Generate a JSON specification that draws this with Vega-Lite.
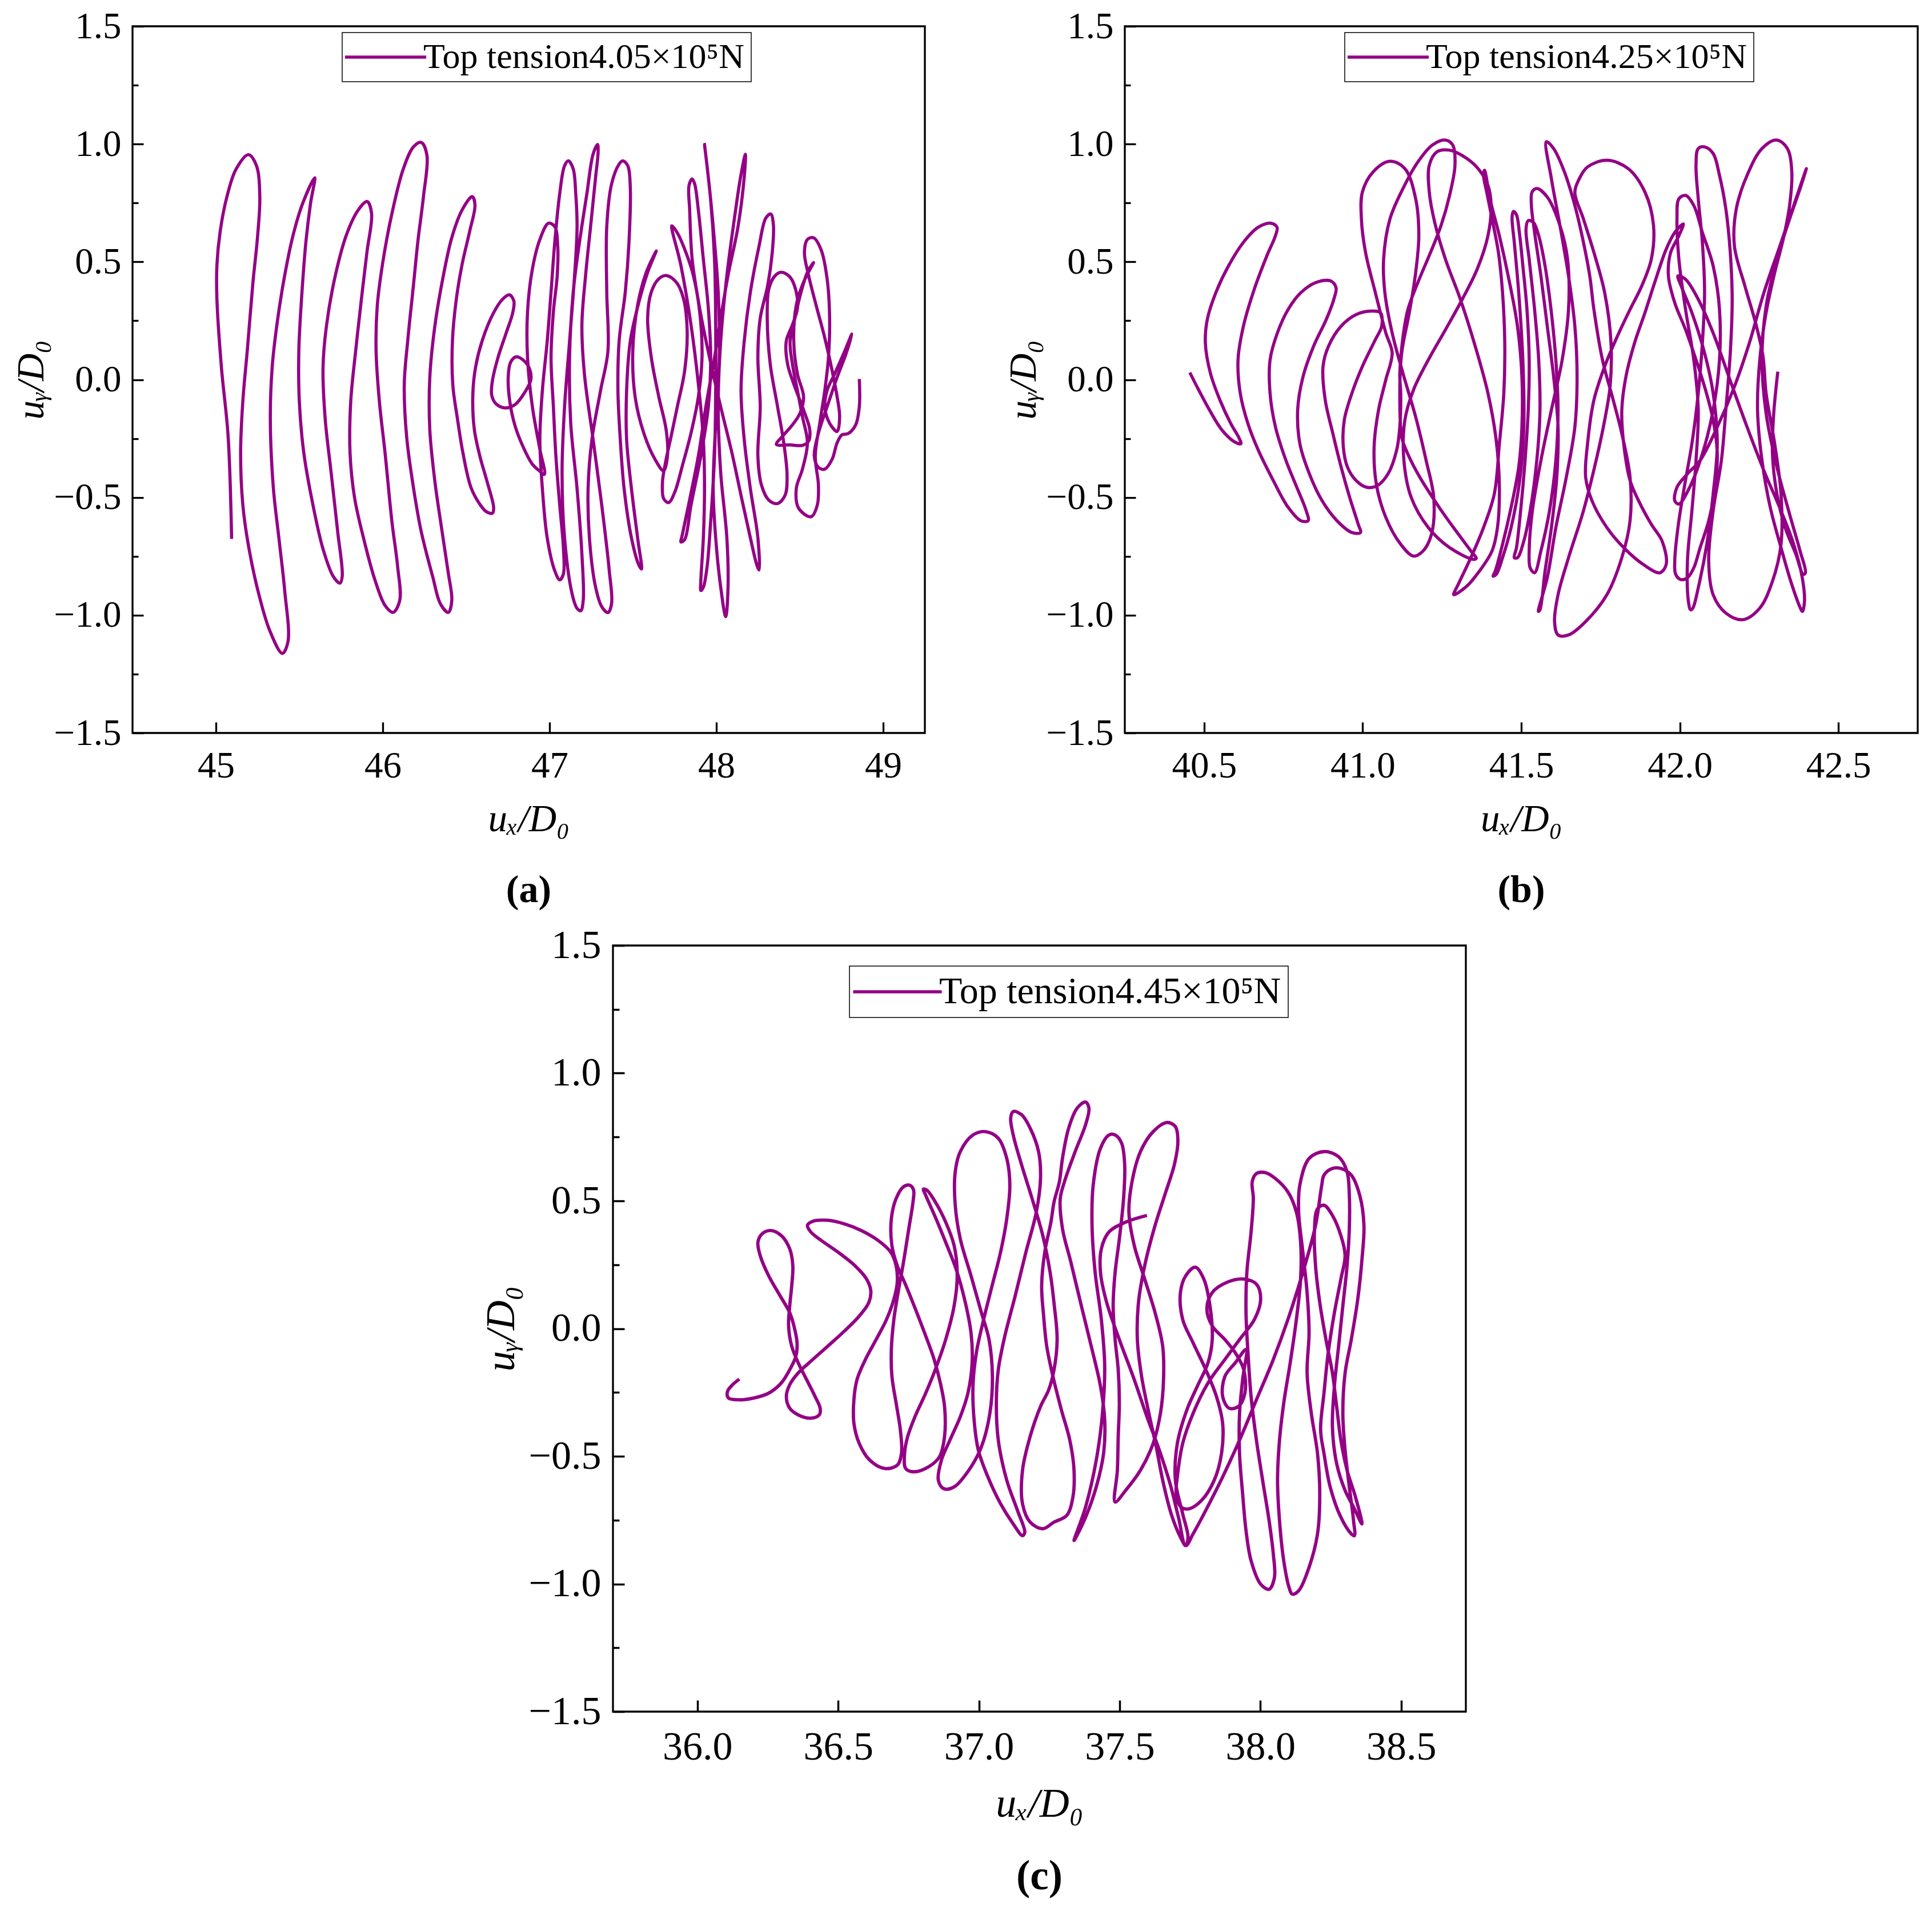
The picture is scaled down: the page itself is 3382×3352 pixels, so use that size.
{
  "$schema": "https://vega.github.io/schema/vega-lite/v6.json",
  "background": "white",
  "padding": {"left": 19, "top": 12, "right": 5, "bottom": 5},
  "config": {
    "view": {"stroke": "black", "strokeWidth": 3.3},
    "font": "Liberation Serif",
    "axis": {"domain": false, "grid": false, "ticks": true, "tickColor": "black", "tickWidth": 3.3, "labelFont": "Liberation Serif", "labelFontSize": 65, "labelColor": "black", "labelOverlap": false, "labelFlush": false, "titleFont": "Liberation Serif", "titleFontSize": 67, "titleFontStyle": "italic", "titleFontWeight": "normal", "titleColor": "black"},
    "axisX": {"tickSize": -19, "labelPadding": 45, "titlePadding": 28},
    "axisY": {"labelPadding": 39, "titlePadding": 5},
    "legend": {"symbolType": "M-3.09,0H3.09", "symbolSize": 2116, "symbolStrokeWidth": 5.5, "labelFont": "Liberation Serif", "labelFontSize": 62, "labelColor": "black", "labelLimit": 0, "strokeColor": "black", "strokeWidth": 1.5, "fillColor": "white", "padding": 12, "cornerRadius": 0, "labelOffset": 35, "symbolOffset": 33},
    "title": {"font": "Liberation Serif", "fontSize": 68, "fontWeight": "bold", "color": "black", "orient": "bottom", "anchor": "middle", "offset": 58},
    "line": {"strokeWidth": 5.5, "interpolate": "catmull-rom"}
  },
  "datasets": {
    "a": [
      {"ux":45.094,"uy":-0.676},{"ux":45.073,"uy":-0.240},{"ux":45.033,"uy":0.051},{"ux":45.006,"uy":0.341},{"ux":45.006,"uy":0.487},{"ux":45.026,"uy":0.632},{"ux":45.066,"uy":0.777},{"ux":45.121,"uy":0.894},{"ux":45.195,"uy":0.955},{"ux":45.243,"uy":0.908},{"ux":45.263,"uy":0.777},
      {"ux":45.249,"uy":0.603},{"ux":45.222,"uy":0.414},{"ux":45.188,"uy":0.124},{"ux":45.161,"uy":-0.094},{"ux":45.148,"uy":-0.312},{"ux":45.161,"uy":-0.530},{"ux":45.195,"uy":-0.705},{"ux":45.256,"uy":-0.908},{"ux":45.324,"uy":-1.068},{"ux":45.398,"uy":-1.162},{"ux":45.432,"uy":-1.112},
      {"ux":45.412,"uy":-0.894},{"ux":45.378,"uy":-0.676},{"ux":45.344,"uy":-0.458},{"ux":45.326,"uy":-0.167},{"ux":45.337,"uy":0.051},{"ux":45.364,"uy":0.225},{"ux":45.405,"uy":0.414},{"ux":45.459,"uy":0.603},{"ux":45.520,"uy":0.748},{"ux":45.592,"uy":0.857},
      {"ux":45.567,"uy":0.748},{"ux":45.540,"uy":0.589},{"ux":45.513,"uy":0.341},{"ux":45.497,"uy":0.124},{"ux":45.500,"uy":-0.094},{"ux":45.527,"uy":-0.312},{"ux":45.581,"uy":-0.530},{"ux":45.642,"uy":-0.719},{"ux":45.703,"uy":-0.835},{"ux":45.743,"uy":-0.864},{"ux":45.757,"uy":-0.835},
      {"ux":45.730,"uy":-0.646},{"ux":45.689,"uy":-0.385},{"ux":45.655,"uy":-0.167},{"ux":45.642,"uy":0.051},{"ux":45.662,"uy":0.225},{"ux":45.716,"uy":0.443},{"ux":45.784,"uy":0.618},{"ux":45.852,"uy":0.719},{"ux":45.906,"uy":0.756},{"ux":45.933,"uy":0.705},
      {"ux":45.906,"uy":0.545},{"ux":45.872,"uy":0.341},{"ux":45.838,"uy":0.124},{"ux":45.808,"uy":-0.094},{"ux":45.804,"uy":-0.312},{"ux":45.831,"uy":-0.501},{"ux":45.886,"uy":-0.676},{"ux":45.953,"uy":-0.850},{"ux":46.014,"uy":-0.959},{"ux":46.062,"uy":-0.988},{"ux":46.102,"uy":-0.937},
      {"ux":46.089,"uy":-0.792},{"ux":46.055,"uy":-0.603},{"ux":46.014,"uy":-0.312},{"ux":45.980,"uy":-0.094},{"ux":45.960,"uy":0.124},{"ux":45.967,"uy":0.312},{"ux":46.001,"uy":0.501},{"ux":46.055,"uy":0.705},{"ux":46.123,"uy":0.894},{"ux":46.184,"uy":0.988},{"ux":46.231,"uy":1.007},{"ux":46.265,"uy":0.952},
      {"ux":46.244,"uy":0.777},{"ux":46.211,"uy":0.589},{"ux":46.184,"uy":0.400},{"ux":46.150,"uy":0.167},{"ux":46.129,"uy":-0.022},{"ux":46.143,"uy":-0.240},{"ux":46.184,"uy":-0.458},{"ux":46.231,"uy":-0.646},{"ux":46.299,"uy":-0.835},{"ux":46.346,"uy":-0.952},{"ux":46.393,"uy":-0.988},{"ux":46.414,"uy":-0.937},
      {"ux":46.393,"uy":-0.821},{"ux":46.353,"uy":-0.632},{"ux":46.312,"uy":-0.429},{"ux":46.282,"uy":-0.211},{"ux":46.282,"uy":0.007},{"ux":46.312,"uy":0.225},{"ux":46.360,"uy":0.429},{"ux":46.414,"uy":0.603},{"ux":46.475,"uy":0.719},{"ux":46.536,"uy":0.777},{"ux":46.553,"uy":0.741},
      {"ux":46.522,"uy":0.632},{"ux":46.475,"uy":0.487},{"ux":46.441,"uy":0.341},{"ux":46.418,"uy":0.167},{"ux":46.420,"uy":-0.022},{"ux":46.448,"uy":-0.167},{"ux":46.481,"uy":-0.312},{"ux":46.529,"uy":-0.458},{"ux":46.583,"uy":-0.530},{"ux":46.620,"uy":-0.560},{"ux":46.657,"uy":-0.567},{"ux":46.665,"uy":-0.545},
      {"ux":46.624,"uy":-0.429},{"ux":46.583,"uy":-0.327},{"ux":46.549,"uy":-0.211},{"ux":46.540,"uy":-0.065},{"ux":46.556,"uy":0.051},{"ux":46.597,"uy":0.167},{"ux":46.664,"uy":0.283},{"ux":46.718,"uy":0.341},{"ux":46.759,"uy":0.360},{"ux":46.786,"uy":0.334},{"ux":46.779,"uy":0.283},
      {"ux":46.739,"uy":0.196},{"ux":46.691,"uy":0.094},{"ux":46.657,"uy":-0.007},{"ux":46.653,"uy":-0.065},{"ux":46.678,"uy":-0.102},{"ux":46.732,"uy":-0.120},{"ux":46.793,"uy":-0.106},{"ux":46.854,"uy":-0.051},{"ux":46.888,"uy":0.000},{"ux":46.881,"uy":0.044},{"ux":46.847,"uy":0.080},{"ux":46.800,"uy":0.097},{"ux":46.766,"uy":0.073},{"ux":46.752,"uy":0.007},{"ux":46.762,"uy":-0.094},{"ux":46.793,"uy":-0.196},{"ux":46.840,"uy":-0.283},{"ux":46.894,"uy":-0.356},{"ux":46.935,"uy":-0.385},{"ux":46.969,"uy":-0.402},
      {"ux":46.942,"uy":-0.296},{"ux":46.897,"uy":-0.115},{"ux":46.868,"uy":0.094},{"ux":46.868,"uy":0.288},{"ux":46.897,"uy":0.469},{"ux":46.942,"uy":0.595},{"ux":46.994,"uy":0.664},{"ux":47.031,"uy":0.650},{"ux":47.049,"uy":0.567},{"ux":47.046,"uy":0.442},
      {"ux":47.023,"uy":0.288},{"ux":47.009,"uy":0.094},{"ux":47.023,"uy":-0.115},{"ux":47.038,"uy":-0.324},{"ux":47.061,"uy":-0.533},{"ux":47.083,"uy":-0.714},{"ux":47.083,"uy":-0.825},{"ux":47.061,"uy":-0.850},{"ux":47.031,"uy":-0.811},
      {"ux":46.986,"uy":-0.672},{"ux":46.957,"uy":-0.463},{"ux":46.942,"uy":-0.254},{"ux":46.957,"uy":-0.046},{"ux":46.986,"uy":0.163},{"ux":47.009,"uy":0.372},{"ux":47.031,"uy":0.581},{"ux":47.061,"uy":0.790},{"ux":47.090,"uy":0.908},{"ux":47.113,"uy":0.929},{"ux":47.142,"uy":0.894},{"ux":47.157,"uy":0.790},
      {"ux":47.165,"uy":0.650},{"ux":47.150,"uy":0.442},{"ux":47.120,"uy":0.163},{"ux":47.090,"uy":-0.115},{"ux":47.075,"uy":-0.394},{"ux":47.090,"uy":-0.672},{"ux":47.135,"uy":-0.909},{"ux":47.165,"uy":-0.971},{"ux":47.187,"uy":-0.981},{"ux":47.202,"uy":-0.936},
      {"ux":47.194,"uy":-0.742},{"ux":47.165,"uy":-0.463},{"ux":47.127,"uy":-0.185},{"ux":47.120,"uy":0.094},{"ux":47.142,"uy":0.372},{"ux":47.179,"uy":0.581},{"ux":47.224,"uy":0.790},{"ux":47.261,"uy":0.957},{"ux":47.288,"uy":0.998},{"ux":47.291,"uy":0.964},
      {"ux":47.276,"uy":0.859},{"ux":47.246,"uy":0.650},{"ux":47.216,"uy":0.442},{"ux":47.194,"uy":0.233},{"ux":47.209,"uy":0.024},{"ux":47.261,"uy":-0.254},{"ux":47.313,"uy":-0.533},{"ux":47.358,"uy":-0.811},{"ux":47.372,"uy":-0.950},{"ux":47.350,"uy":-0.989},{"ux":47.313,"uy":-0.964},
      {"ux":47.276,"uy":-0.881},{"ux":47.239,"uy":-0.672},{"ux":47.231,"uy":-0.463},{"ux":47.254,"uy":-0.254},{"ux":47.306,"uy":-0.046},{"ux":47.350,"uy":0.121},{"ux":47.343,"uy":0.372},{"ux":47.343,"uy":0.650},{"ux":47.372,"uy":0.831},{"ux":47.417,"uy":0.915},{"ux":47.439,"uy":0.929},{"ux":47.469,"uy":0.908},{"ux":47.484,"uy":0.817},
      {"ux":47.476,"uy":0.581},{"ux":47.454,"uy":0.372},{"ux":47.417,"uy":0.163},{"ux":47.410,"uy":-0.046},{"ux":47.424,"uy":-0.254},{"ux":47.447,"uy":-0.463},{"ux":47.491,"uy":-0.672},{"ux":47.533,"uy":-0.783},{"ux":47.551,"uy":-0.804},
      {"ux":47.528,"uy":-0.672},{"ux":47.491,"uy":-0.463},{"ux":47.462,"uy":-0.254},{"ux":47.462,"uy":-0.046},{"ux":47.484,"uy":0.163},{"ux":47.536,"uy":0.330},{"ux":47.595,"uy":0.469},{"ux":47.640,"uy":0.546},
      {"ux":47.580,"uy":0.456},{"ux":47.528,"uy":0.316},{"ux":47.499,"uy":0.121},{"ux":47.513,"uy":-0.073},{"ux":47.565,"uy":-0.227},{"ux":47.632,"uy":-0.338},{"ux":47.684,"uy":-0.387},
      {"ux":47.707,"uy":-0.324},{"ux":47.699,"uy":-0.213},{"ux":47.655,"uy":-0.073},{"ux":47.610,"uy":0.094},{"ux":47.588,"uy":0.261},{"ux":47.610,"uy":0.372},{"ux":47.655,"uy":0.428},{"ux":47.699,"uy":0.442},{"ux":47.759,"uy":0.414},{"ux":47.803,"uy":0.344},{"ux":47.825,"uy":0.205},{"ux":47.810,"uy":0.038},{"ux":47.766,"uy":-0.115},{"ux":47.729,"uy":-0.240},{"ux":47.699,"uy":-0.338},{"ux":47.677,"uy":-0.435},{"ux":47.684,"uy":-0.505},{"ux":47.714,"uy":-0.522},{"ux":47.751,"uy":-0.477},{"ux":47.796,"uy":-0.366},{"ux":47.848,"uy":-0.227},{"ux":47.892,"uy":-0.073},{"ux":47.914,"uy":0.094},{"ux":47.900,"uy":0.288},{"ux":47.862,"uy":0.442},{"ux":47.818,"uy":0.539},{"ux":47.766,"uy":0.623},{"ux":47.733,"uy":0.653},
      {"ux":47.788,"uy":0.483},{"ux":47.848,"uy":0.233},{"ux":47.892,"uy":-0.018},{"ux":47.922,"uy":-0.254},{"ux":47.929,"uy":-0.463},{"ux":47.922,"uy":-0.672},{"ux":47.907,"uy":-0.853},{"ux":47.907,"uy":-0.895},{"ux":47.922,"uy":-0.881},{"ux":47.944,"uy":-0.797},
      {"ux":47.966,"uy":-0.602},{"ux":47.989,"uy":-0.324},{"ux":47.996,"uy":-0.046},{"ux":47.996,"uy":0.233},{"ux":47.989,"uy":0.511},{"ux":47.966,"uy":0.762},{"ux":47.929,"uy":0.998},
      {"ux":47.952,"uy":0.859},{"ux":47.981,"uy":0.650},{"ux":48.011,"uy":0.372},{"ux":48.018,"uy":0.094},{"ux":47.996,"uy":-0.185},{"ux":47.981,"uy":-0.463},{"ux":47.996,"uy":-0.672},{"ux":48.026,"uy":-0.881},{"ux":48.056,"uy":-1.006},
      {"ux":48.070,"uy":-0.881},{"ux":48.063,"uy":-0.672},{"ux":48.026,"uy":-0.394},{"ux":48.011,"uy":-0.115},{"ux":48.026,"uy":0.163},{"ux":48.063,"uy":0.442},{"ux":48.107,"uy":0.678},{"ux":48.145,"uy":0.859},{"ux":48.174,"uy":0.957},
      {"ux":48.167,"uy":0.859},{"ux":48.130,"uy":0.650},{"ux":48.070,"uy":0.442},{"ux":48.026,"uy":0.261},{"ux":47.989,"uy":0.094},{"ux":47.937,"uy":-0.115},{"ux":47.892,"uy":-0.324},{"ux":47.833,"uy":-0.533},{"ux":47.796,"uy":-0.658},{"ux":47.788,"uy":-0.689},{"ux":47.810,"uy":-0.679},
      {"ux":47.848,"uy":-0.533},{"ux":47.907,"uy":-0.324},{"ux":47.952,"uy":-0.115},{"ux":47.966,"uy":0.094},{"ux":47.952,"uy":0.302},{"ux":47.922,"uy":0.511},{"ux":47.892,"uy":0.720},{"ux":47.870,"uy":0.831},{"ux":47.855,"uy":0.852},{"ux":47.836,"uy":0.824},{"ux":47.840,"uy":0.720},
      {"ux":47.855,"uy":0.511},{"ux":47.900,"uy":0.302},{"ux":47.959,"uy":0.094},{"ux":48.026,"uy":-0.115},{"ux":48.093,"uy":-0.310},{"ux":48.152,"uy":-0.505},{"ux":48.204,"uy":-0.672},{"ux":48.241,"uy":-0.783},{"ux":48.256,"uy":-0.808},
      {"ux":48.249,"uy":-0.672},{"ux":48.204,"uy":-0.463},{"ux":48.167,"uy":-0.254},{"ux":48.148,"uy":-0.046},{"ux":48.167,"uy":0.163},{"ux":48.204,"uy":0.372},{"ux":48.256,"uy":0.567},{"ux":48.296,"uy":0.685},{"ux":48.326,"uy":0.703},{"ux":48.342,"uy":0.657},
      {"ux":48.335,"uy":0.539},{"ux":48.308,"uy":0.400},{"ux":48.263,"uy":0.261},{"ux":48.249,"uy":0.094},{"ux":48.263,"uy":-0.115},{"ux":48.249,"uy":-0.324},{"ux":48.271,"uy":-0.449},{"ux":48.315,"uy":-0.512},{"ux":48.367,"uy":-0.526},{"ux":48.412,"uy":-0.491},{"ux":48.424,"uy":-0.408},
      {"ux":48.404,"uy":-0.268},{"ux":48.367,"uy":-0.115},{"ux":48.323,"uy":0.066},{"ux":48.305,"uy":0.261},{"ux":48.315,"uy":0.386},{"ux":48.353,"uy":0.442},{"ux":48.390,"uy":0.456},{"ux":48.442,"uy":0.435},{"ux":48.479,"uy":0.372},{"ux":48.486,"uy":0.302},
      {"ux":48.456,"uy":0.233},{"ux":48.419,"uy":0.163},{"ux":48.427,"uy":0.066},{"ux":48.471,"uy":-0.032},{"ux":48.523,"uy":-0.129},{"ux":48.560,"uy":-0.213},{"ux":48.553,"uy":-0.261},{"ux":48.516,"uy":-0.279},{"ux":48.442,"uy":-0.277},{"ux":48.360,"uy":-0.275},{"ux":48.397,"uy":-0.240},{"ux":48.456,"uy":-0.192},{"ux":48.501,"uy":-0.143},{"ux":48.523,"uy":-0.073},
      {"ux":48.486,"uy":0.024},{"ux":48.464,"uy":0.163},{"ux":48.479,"uy":0.316},{"ux":48.523,"uy":0.414},{"ux":48.583,"uy":0.497},
      {"ux":48.546,"uy":0.456},{"ux":48.508,"uy":0.372},{"ux":48.471,"uy":0.261},{"ux":48.442,"uy":0.163},{"ux":48.456,"uy":0.066},{"ux":48.486,"uy":-0.046},{"ux":48.516,"uy":-0.157},{"ux":48.546,"uy":-0.268},{"ux":48.516,"uy":-0.380},{"ux":48.479,"uy":-0.463},{"ux":48.494,"uy":-0.547},{"ux":48.568,"uy":-0.582},{"ux":48.605,"uy":-0.533},{"ux":48.612,"uy":-0.449},
      {"ux":48.593,"uy":-0.324},{"ux":48.620,"uy":-0.185},{"ux":48.650,"uy":-0.046},{"ux":48.672,"uy":0.094},{"ux":48.679,"uy":0.261},{"ux":48.664,"uy":0.428},{"ux":48.627,"uy":0.553},{"ux":48.583,"uy":0.602},{"ux":48.546,"uy":0.595},{"ux":48.528,"uy":0.539},
      {"ux":48.553,"uy":0.442},{"ux":48.598,"uy":0.316},{"ux":48.650,"uy":0.177},{"ux":48.694,"uy":0.038},{"ux":48.724,"uy":-0.073},{"ux":48.739,"uy":-0.157},{"ux":48.724,"uy":-0.220},{"ux":48.679,"uy":-0.185},{"ux":48.650,"uy":-0.115},{"ux":48.664,"uy":-0.046},{"ux":48.709,"uy":0.024},{"ux":48.761,"uy":0.107},{"ux":48.813,"uy":0.194},
      {"ux":48.776,"uy":0.107},{"ux":48.724,"uy":0.010},{"ux":48.664,"uy":-0.115},{"ux":48.612,"uy":-0.227},{"ux":48.587,"uy":-0.324},{"ux":48.612,"uy":-0.373},{"ux":48.650,"uy":-0.380},{"ux":48.694,"uy":-0.338},{"ux":48.724,"uy":-0.268},{"ux":48.753,"uy":-0.234},{"ux":48.790,"uy":-0.229},{"ux":48.835,"uy":-0.192},{"ux":48.857,"uy":-0.115},{"ux":48.857,"uy":0.003}
    ],
    "b": [
      {"ux":40.455,"uy":0.030},{"ux":40.483,"uy":-0.044},{"ux":40.517,"uy":-0.129},{"ux":40.557,"uy":-0.215},{"ux":40.597,"uy":-0.265},{"ux":40.616,"uy":-0.272},{"ux":40.611,"uy":-0.250},{"ux":40.584,"uy":-0.186},{"ux":40.550,"uy":-0.087},{"ux":40.520,"uy":0.027},{"ux":40.504,"uy":0.155},{"ux":40.510,"uy":0.255},{"ux":40.537,"uy":0.369},{"ux":40.577,"uy":0.483},{"ux":40.624,"uy":0.583},{"ux":40.671,"uy":0.647},{"ux":40.711,"uy":0.664},{"ux":40.730,"uy":0.647},{"ux":40.725,"uy":0.611},
      {"ux":40.698,"uy":0.526},{"ux":40.658,"uy":0.383},{"ux":40.624,"uy":0.227},{"ux":40.607,"uy":0.084},{"ux":40.614,"uy":-0.058},{"ux":40.638,"uy":-0.186},{"ux":40.671,"uy":-0.300},{"ux":40.718,"uy":-0.428},{"ux":40.765,"uy":-0.542},{"ux":40.805,"uy":-0.599},{"ux":40.828,"uy":-0.599},{"ux":40.822,"uy":-0.557},
      {"ux":40.792,"uy":-0.456},{"ux":40.758,"uy":-0.343},{"ux":40.725,"uy":-0.201},{"ux":40.708,"uy":-0.058},{"ux":40.708,"uy":0.084},{"ux":40.731,"uy":0.198},{"ux":40.765,"uy":0.298},{"ux":40.805,"uy":0.369},{"ux":40.852,"uy":0.412},{"ux":40.899,"uy":0.419},{"ux":40.916,"uy":0.390},{"ux":40.909,"uy":0.341},
      {"ux":40.885,"uy":0.255},{"ux":40.845,"uy":0.141},{"ux":40.812,"uy":0.013},{"ux":40.795,"uy":-0.129},{"ux":40.802,"uy":-0.272},{"ux":40.832,"uy":-0.400},{"ux":40.872,"uy":-0.514},{"ux":40.919,"uy":-0.599},{"ux":40.966,"uy":-0.649},{"ux":40.993,"uy":-0.649},{"ux":40.986,"uy":-0.614},
      {"ux":40.959,"uy":-0.500},{"ux":40.932,"uy":-0.371},{"ux":40.906,"uy":-0.229},{"ux":40.882,"uy":-0.087},{"ux":40.875,"uy":0.056},{"ux":40.892,"uy":0.141},{"ux":40.932,"uy":0.227},{"ux":40.979,"uy":0.276},{"ux":41.026,"uy":0.291},{"ux":41.056,"uy":0.284},{"ux":41.060,"uy":0.227},
      {"ux":41.040,"uy":0.170},{"ux":40.999,"uy":0.056},{"ux":40.966,"uy":-0.058},{"ux":40.942,"uy":-0.172},{"ux":40.939,"uy":-0.286},{"ux":40.952,"uy":-0.371},{"ux":40.979,"uy":-0.428},{"ux":41.013,"uy":-0.457},{"ux":41.046,"uy":-0.450},{"ux":41.080,"uy":-0.400},{"ux":41.107,"uy":-0.300},{"ux":41.117,"uy":-0.201},{"ux":41.120,"uy":-0.058},{"ux":41.117,"uy":0.027},
      {"ux":41.140,"uy":0.284},{"ux":41.174,"uy":0.412},{"ux":41.214,"uy":0.540},{"ux":41.247,"uy":0.654},{"ux":41.274,"uy":0.782},{"ux":41.291,"uy":0.910},{"ux":41.284,"uy":0.996},{"ux":41.261,"uy":1.017},{"ux":41.220,"uy":0.996},{"ux":41.174,"uy":0.924},{"ux":41.127,"uy":0.811},{"ux":41.086,"uy":0.682},{"ux":41.066,"uy":0.511},{"ux":41.070,"uy":0.369},{"ux":41.093,"uy":0.198},{"ux":41.127,"uy":0.027},{"ux":41.167,"uy":-0.158},{"ux":41.200,"uy":-0.343},{"ux":41.224,"uy":-0.500},{"ux":41.217,"uy":-0.656},{"ux":41.190,"uy":-0.728},{"ux":41.160,"uy":-0.749},{"ux":41.120,"uy":-0.699},{"ux":41.073,"uy":-0.585},{"ux":41.043,"uy":-0.443},{"ux":41.036,"uy":-0.286},{"ux":41.050,"uy":-0.129},{"ux":41.073,"uy":0.000},{"ux":41.093,"uy":0.113},
      {"ux":41.073,"uy":0.198},{"ux":41.040,"uy":0.369},{"ux":41.009,"uy":0.540},{"ux":40.996,"uy":0.682},{"ux":40.999,"uy":0.796},{"ux":41.033,"uy":0.882},{"ux":41.086,"uy":0.927},{"ux":41.133,"uy":0.896},{"ux":41.167,"uy":0.768},{"ux":41.177,"uy":0.611},{"ux":41.167,"uy":0.454},{"ux":41.147,"uy":0.284},{"ux":41.123,"uy":0.113},{"ux":41.117,"uy":-0.058},{"ux":41.123,"uy":-0.243},{"ux":41.133,"uy":-0.286},{"ux":41.174,"uy":-0.400},{"ux":41.241,"uy":-0.542},{"ux":41.294,"uy":-0.642},{"ux":41.341,"uy":-0.727},{"ux":41.358,"uy":-0.759},{"ux":41.348,"uy":-0.763},
      {"ux":41.274,"uy":-0.713},{"ux":41.207,"uy":-0.628},{"ux":41.153,"uy":-0.500},{"ux":41.130,"uy":-0.343},{"ux":41.133,"uy":-0.172},{"ux":41.160,"uy":-0.044},{"ux":41.207,"uy":0.084},{"ux":41.261,"uy":0.212},{"ux":41.314,"uy":0.341},{"ux":41.361,"uy":0.469},{"ux":41.395,"uy":0.611},{"ux":41.405,"uy":0.739},{"ux":41.395,"uy":0.825},{"ux":41.368,"uy":0.889},{"ux":41.328,"uy":0.939},{"ux":41.274,"uy":0.974},{"ux":41.234,"uy":0.967},{"ux":41.210,"uy":0.910},{"ux":41.210,"uy":0.796},{"ux":41.227,"uy":0.668},{"ux":41.261,"uy":0.511},{"ux":41.308,"uy":0.341},{"ux":41.355,"uy":0.141},{"ux":41.395,"uy":-0.058},{"ux":41.421,"uy":-0.258},{"ux":41.431,"uy":-0.457},{"ux":41.425,"uy":-0.628},{"ux":41.408,"uy":-0.727},{"ux":41.368,"uy":-0.813},{"ux":41.328,"uy":-0.877},{"ux":41.287,"uy":-0.913},
      {"ux":41.301,"uy":-0.870},{"ux":41.341,"uy":-0.756},{"ux":41.381,"uy":-0.628},{"ux":41.415,"uy":-0.485},{"ux":41.431,"uy":-0.272},{"ux":41.445,"uy":-0.058},{"ux":41.448,"uy":0.155},{"ux":41.441,"uy":0.369},{"ux":41.428,"uy":0.540},{"ux":41.408,"uy":0.682},{"ux":41.391,"uy":0.796},{"ux":41.381,"uy":0.867},{"ux":41.384,"uy":0.889},
      {"ux":41.404,"uy":0.753},{"ux":41.431,"uy":0.611},{"ux":41.461,"uy":0.426},{"ux":41.488,"uy":0.227},{"ux":41.502,"uy":0.013},{"ux":41.502,"uy":-0.201},{"ux":41.492,"uy":-0.371},{"ux":41.468,"uy":-0.542},{"ux":41.441,"uy":-0.699},{"ux":41.418,"uy":-0.813},{"ux":41.411,"uy":-0.834},{"ux":41.421,"uy":-0.827},
      {"ux":41.441,"uy":-0.756},{"ux":41.468,"uy":-0.628},{"ux":41.495,"uy":-0.428},{"ux":41.508,"uy":-0.201},{"ux":41.505,"uy":0.084},{"ux":41.492,"uy":0.369},{"ux":41.478,"uy":0.583},{"ux":41.471,"uy":0.689},{"ux":41.475,"uy":0.714},{"ux":41.485,"uy":0.699},{"ux":41.494,"uy":0.625},
      {"ux":41.505,"uy":0.483},{"ux":41.518,"uy":0.298},{"ux":41.525,"uy":0.084},{"ux":41.522,"uy":-0.129},{"ux":41.512,"uy":-0.343},{"ux":41.498,"uy":-0.557},{"ux":41.485,"uy":-0.713},{"ux":41.478,"uy":-0.756},{"ux":41.488,"uy":-0.756},
      {"ux":41.508,"uy":-0.685},{"ux":41.528,"uy":-0.557},{"ux":41.549,"uy":-0.343},{"ux":41.559,"uy":-0.129},{"ux":41.555,"uy":0.084},{"ux":41.542,"uy":0.298},{"ux":41.525,"uy":0.511},{"ux":41.515,"uy":0.640},{"ux":41.522,"uy":0.675},{"ux":41.538,"uy":0.668},{"ux":41.555,"uy":0.611},
      {"ux":41.575,"uy":0.483},{"ux":41.595,"uy":0.284},{"ux":41.609,"uy":0.084},{"ux":41.616,"uy":-0.129},{"ux":41.609,"uy":-0.343},{"ux":41.589,"uy":-0.557},{"ux":41.562,"uy":-0.727},{"ux":41.542,"uy":-0.820},{"ux":41.528,"uy":-0.799},{"ux":41.525,"uy":-0.727},
      {"ux":41.535,"uy":-0.557},{"ux":41.562,"uy":-0.343},{"ux":41.595,"uy":-0.129},{"ux":41.629,"uy":0.084},{"ux":41.649,"uy":0.298},{"ux":41.646,"uy":0.511},{"ux":41.622,"uy":0.654},{"ux":41.582,"uy":0.775},{"ux":41.549,"uy":0.811},{"ux":41.534,"uy":0.796},{"ux":41.532,"uy":0.739},
      {"ux":41.542,"uy":0.625},{"ux":41.562,"uy":0.440},{"ux":41.582,"uy":0.227},{"ux":41.602,"uy":0.013},{"ux":41.616,"uy":-0.201},{"ux":41.612,"uy":-0.414},{"ux":41.595,"uy":-0.628},{"ux":41.575,"uy":-0.813},{"ux":41.559,"uy":-0.977},{"ux":41.554,"uy":-0.984},
      {"ux":41.582,"uy":-0.841},{"ux":41.609,"uy":-0.628},{"ux":41.642,"uy":-0.414},{"ux":41.669,"uy":-0.201},{"ux":41.676,"uy":0.013},{"ux":41.669,"uy":0.227},{"ux":41.649,"uy":0.440},{"ux":41.622,"uy":0.654},{"ux":41.595,"uy":0.853},{"ux":41.579,"uy":1.010},
      {"ux":41.602,"uy":0.981},{"ux":41.636,"uy":0.882},{"ux":41.669,"uy":0.739},{"ux":41.696,"uy":0.583},{"ux":41.716,"uy":0.440},{"ux":41.729,"uy":0.298},{"ux":41.756,"uy":0.084},{"ux":41.790,"uy":-0.087},{"ux":41.817,"uy":-0.229},{"ux":41.843,"uy":-0.414},{"ux":41.843,"uy":-0.599},{"ux":41.817,"uy":-0.756},{"ux":41.770,"uy":-0.913},{"ux":41.703,"uy":-1.027},{"ux":41.649,"uy":-1.084},{"ux":41.616,"uy":-1.084},{"ux":41.605,"uy":-1.027},{"ux":41.616,"uy":-0.913},{"ux":41.649,"uy":-0.756},{"ux":41.696,"uy":-0.557},{"ux":41.736,"uy":-0.343},{"ux":41.763,"uy":-0.172},{"ux":41.780,"uy":-0.030},{"ux":41.783,"uy":0.155},{"ux":41.763,"uy":0.369},{"ux":41.729,"uy":0.540},{"ux":41.696,"uy":0.682},{"ux":41.669,"uy":0.796},
      {"ux":41.683,"uy":0.853},{"ux":41.709,"uy":0.903},{"ux":41.770,"uy":0.931},{"ux":41.837,"uy":0.896},{"ux":41.890,"uy":0.796},{"ux":41.917,"uy":0.654},{"ux":41.910,"uy":0.511},{"ux":41.880,"uy":0.398},{"ux":41.843,"uy":0.298},{"ux":41.803,"uy":0.184},{"ux":41.763,"uy":0.056},{"ux":41.729,"uy":-0.087},{"ux":41.709,"uy":-0.272},{"ux":41.703,"uy":-0.414},{"ux":41.723,"uy":-0.514},{"ux":41.770,"uy":-0.628},{"ux":41.823,"uy":-0.713},{"ux":41.884,"uy":-0.784},{"ux":41.937,"uy":-0.820},{"ux":41.957,"uy":-0.784},{"ux":41.944,"uy":-0.685},{"ux":41.910,"uy":-0.614},{"ux":41.870,"uy":-0.514},{"ux":41.843,"uy":-0.428},{"ux":41.823,"uy":-0.272},{"ux":41.817,"uy":-0.129},{"ux":41.830,"uy":0.013},{"ux":41.857,"uy":0.155},{"ux":41.890,"uy":0.284},{"ux":41.924,"uy":0.426},{"ux":41.957,"uy":0.554},{"ux":41.984,"uy":0.625},{"ux":42.011,"uy":0.661},
      {"ux":41.997,"uy":0.611},{"ux":41.971,"uy":0.540},{"ux":41.964,"uy":0.440},{"ux":41.984,"uy":0.326},{"ux":42.018,"uy":0.212},{"ux":42.051,"uy":0.084},{"ux":42.078,"uy":-0.030},{"ux":42.105,"uy":-0.172},{"ux":42.118,"uy":-0.315},{"ux":42.111,"uy":-0.457},{"ux":42.091,"uy":-0.599},{"ux":42.064,"uy":-0.713},{"ux":42.044,"uy":-0.799},{"ux":42.024,"uy":-0.841},{"ux":42.004,"uy":-0.849},{"ux":41.987,"uy":-0.827},{"ux":41.984,"uy":-0.770},
      {"ux":41.994,"uy":-0.628},{"ux":42.014,"uy":-0.457},{"ux":42.038,"uy":-0.272},{"ux":42.058,"uy":-0.058},{"ux":42.071,"uy":0.155},{"ux":42.078,"uy":0.369},{"ux":42.071,"uy":0.583},{"ux":42.058,"uy":0.768},{"ux":42.051,"uy":0.910},{"ux":42.058,"uy":0.981},{"ux":42.078,"uy":0.988},{"ux":42.105,"uy":0.960},{"ux":42.125,"uy":0.867},
      {"ux":42.145,"uy":0.725},{"ux":42.159,"uy":0.540},{"ux":42.165,"uy":0.341},{"ux":42.159,"uy":0.113},{"ux":42.145,"uy":-0.129},{"ux":42.131,"uy":-0.343},{"ux":42.105,"uy":-0.557},{"ux":42.091,"uy":-0.770},{"ux":42.105,"uy":-0.913},{"ux":42.145,"uy":-0.991},{"ux":42.198,"uy":-1.019},{"ux":42.252,"uy":-0.970},{"ux":42.292,"uy":-0.856},
      {"ux":42.319,"uy":-0.699},{"ux":42.319,"uy":-0.485},{"ux":42.299,"uy":-0.272},{"ux":42.272,"uy":-0.058},{"ux":42.262,"uy":0.100},{"ux":42.239,"uy":0.240},{"ux":42.205,"uy":0.398},{"ux":42.172,"uy":0.568},{"ux":42.178,"uy":0.725},{"ux":42.212,"uy":0.867},{"ux":42.259,"uy":0.981},{"ux":42.306,"uy":1.017},{"ux":42.339,"uy":0.981},{"ux":42.353,"uy":0.882},{"ux":42.346,"uy":0.739},
      {"ux":42.326,"uy":0.597},{"ux":42.299,"uy":0.454},{"ux":42.272,"uy":0.284},{"ux":42.252,"uy":0.084},{"ux":42.245,"uy":-0.129},{"ux":42.259,"uy":-0.343},{"ux":42.285,"uy":-0.542},{"ux":42.319,"uy":-0.713},{"ux":42.353,"uy":-0.870},{"ux":42.380,"uy":-0.970},{"ux":42.386,"uy":-0.984},{"ux":42.393,"uy":-0.941},
      {"ux":42.386,"uy":-0.841},{"ux":42.359,"uy":-0.699},{"ux":42.319,"uy":-0.557},{"ux":42.265,"uy":-0.386},{"ux":42.212,"uy":-0.201},{"ux":42.158,"uy":-0.001},{"ux":42.105,"uy":0.198},{"ux":42.058,"uy":0.341},{"ux":42.018,"uy":0.426},{"ux":41.994,"uy":0.440},
      {"ux":42.004,"uy":0.398},{"ux":42.038,"uy":0.284},{"ux":42.078,"uy":0.113},{"ux":42.105,"uy":-0.058},{"ux":42.118,"uy":-0.272},{"ux":42.105,"uy":-0.485},{"ux":42.085,"uy":-0.699},{"ux":42.058,"uy":-0.884},{"ux":42.041,"uy":-0.970},{"ux":42.034,"uy":-0.977},{"ux":42.027,"uy":-0.941},
      {"ux":42.024,"uy":-0.770},{"ux":42.038,"uy":-0.557},{"ux":42.051,"uy":-0.343},{"ux":42.058,"uy":-0.129},{"ux":42.044,"uy":0.084},{"ux":42.018,"uy":0.298},{"ux":41.997,"uy":0.511},{"ux":41.991,"uy":0.682},{"ux":41.997,"uy":0.768},{"ux":42.018,"uy":0.782},{"ux":42.044,"uy":0.739},
      {"ux":42.071,"uy":0.625},{"ux":42.105,"uy":0.483},{"ux":42.125,"uy":0.298},{"ux":42.125,"uy":0.084},{"ux":42.105,"uy":-0.129},{"ux":42.071,"uy":-0.315},{"ux":42.031,"uy":-0.457},{"ux":41.997,"uy":-0.528},{"ux":41.984,"uy":-0.514},{"ux":41.991,"uy":-0.457},{"ux":42.024,"uy":-0.400},{"ux":42.064,"uy":-0.343},
      {"ux":42.118,"uy":-0.201},{"ux":42.172,"uy":-0.030},{"ux":42.219,"uy":0.155},{"ux":42.265,"uy":0.369},{"ux":42.312,"uy":0.554},{"ux":42.359,"uy":0.739},{"ux":42.399,"uy":0.896},
      {"ux":42.379,"uy":0.810},{"ux":42.346,"uy":0.682},{"ux":42.306,"uy":0.511},{"ux":42.272,"uy":0.312},{"ux":42.259,"uy":0.084},{"ux":42.272,"uy":-0.144},{"ux":42.306,"uy":-0.371},{"ux":42.346,"uy":-0.571},{"ux":42.379,"uy":-0.727},{"ux":42.396,"uy":-0.820},{"ux":42.389,"uy":-0.827},
      {"ux":42.366,"uy":-0.742},{"ux":42.332,"uy":-0.628},{"ux":42.306,"uy":-0.485},{"ux":42.292,"uy":-0.315},{"ux":42.296,"uy":-0.144},{"ux":42.306,"uy":-0.001},{"ux":42.309,"uy":0.034}
    ],
    "c": [
      {"ux":36.149,"uy":-0.198},{"ux":36.125,"uy":-0.220},{"ux":36.107,"uy":-0.246},{"ux":36.110,"uy":-0.272},{"ux":36.148,"uy":-0.279},{"ux":36.200,"uy":-0.272},{"ux":36.253,"uy":-0.253},{"ux":36.298,"uy":-0.213},{"ux":36.328,"uy":-0.161},{"ux":36.350,"uy":-0.108},{"ux":36.354,"uy":-0.056},{"ux":36.343,"uy":0.010},{"ux":36.328,"uy":0.062},{"ux":36.294,"uy":0.128},{"ux":36.253,"uy":0.207},{"ux":36.223,"uy":0.286},{"ux":36.215,"uy":0.338},{"ux":36.230,"uy":0.371},{"ux":36.260,"uy":0.384},{"ux":36.298,"uy":0.364},{"ux":36.328,"uy":0.312},{"ux":36.339,"uy":0.246},{"ux":36.335,"uy":0.167},{"ux":36.328,"uy":0.089},{"ux":36.324,"uy":0.010},{"ux":36.335,"uy":-0.069},{"ux":36.358,"uy":-0.134},{"ux":36.388,"uy":-0.200},{"ux":36.418,"uy":-0.266},{"ux":36.436,"uy":-0.312},{"ux":36.433,"uy":-0.338},{"ux":36.403,"uy":-0.351},{"ux":36.358,"uy":-0.338},{"ux":36.328,"uy":-0.312},{"ux":36.316,"uy":-0.266},{"ux":36.328,"uy":-0.220},{"ux":36.358,"uy":-0.174},{"ux":36.403,"uy":-0.128},{"ux":36.463,"uy":-0.069},{"ux":36.522,"uy":-0.010},{"ux":36.575,"uy":0.049},{"ux":36.609,"uy":0.102},{"ux":36.616,"uy":0.148},{"ux":36.601,"uy":0.194},{"ux":36.560,"uy":0.246},{"ux":36.500,"uy":0.299},{"ux":36.440,"uy":0.345},{"ux":36.403,"uy":0.378},{"ux":36.391,"uy":0.404},{"ux":36.410,"uy":0.420},{"ux":36.463,"uy":0.424},{"ux":36.522,"uy":0.410},{"ux":36.582,"uy":0.384},{"ux":36.642,"uy":0.345},{"ux":36.687,"uy":0.299},{"ux":36.706,"uy":0.246},{"ux":36.710,"uy":0.181},{"ux":36.698,"uy":0.115},{"ux":36.672,"uy":0.036},{"ux":36.635,"uy":-0.043},{"ux":36.597,"uy":-0.121},{"ux":36.567,"uy":-0.200},{"ux":36.556,"uy":-0.279},{"ux":36.556,"uy":-0.371},{"ux":36.575,"uy":-0.450},{"ux":36.612,"uy":-0.515},{"ux":36.665,"uy":-0.548},{"ux":36.710,"uy":-0.535},{"ux":36.725,"uy":-0.489},{"ux":36.721,"uy":-0.397},{"ux":36.706,"uy":-0.292},{"ux":36.691,"uy":-0.187},{"ux":36.689,"uy":-0.082},{"ux":36.698,"uy":0.036},{"ux":36.713,"uy":0.141},{"ux":36.732,"uy":0.259},{"ux":36.751,"uy":0.391},{"ux":36.766,"uy":0.496},{"ux":36.768,"uy":0.542},{"ux":36.755,"uy":0.561},{"ux":36.732,"uy":0.555},{"ux":36.706,"uy":0.509},{"ux":36.689,"uy":0.430},{"ux":36.691,"uy":0.325},{"ux":36.710,"uy":0.246},{"ux":36.736,"uy":0.181},{"ux":36.770,"uy":0.089},{"ux":36.807,"uy":-0.017},{"ux":36.841,"uy":-0.121},{"ux":36.863,"uy":-0.213},{"ux":36.878,"uy":-0.305},{"ux":36.878,"uy":-0.423},{"ux":36.860,"uy":-0.502},{"ux":36.822,"uy":-0.541},{"ux":36.770,"uy":-0.561},{"ux":36.740,"uy":-0.548},{"ux":36.736,"uy":-0.489},{"ux":36.747,"uy":-0.423},{"ux":36.773,"uy":-0.345},{"ux":36.811,"uy":-0.253},{"ux":36.845,"uy":-0.161},{"ux":36.882,"uy":-0.043},{"ux":36.912,"uy":0.089},{"ux":36.923,"uy":0.207},{"ux":36.912,"uy":0.325},{"ux":36.882,"uy":0.417},{"ux":36.845,"uy":0.496},{"ux":36.815,"uy":0.542},{"ux":36.803,"uy":0.546},{"ux":36.811,"uy":0.522},{"ux":36.845,"uy":0.437},{"ux":36.882,"uy":0.338},{"ux":36.919,"uy":0.233},{"ux":36.949,"uy":0.115},{"ux":36.972,"uy":-0.016},{"ux":36.976,"uy":-0.134},{"ux":36.961,"uy":-0.253},{"ux":36.934,"uy":-0.345},{"ux":36.897,"uy":-0.437},{"ux":36.867,"uy":-0.515},{"ux":36.856,"uy":-0.594},{"ux":36.875,"uy":-0.627},{"ux":36.912,"uy":-0.620},{"ux":36.964,"uy":-0.555},{"ux":37.009,"uy":-0.463},{"ux":37.039,"uy":-0.332},{"ux":37.048,"uy":-0.187},{"ux":37.036,"uy":-0.043},{"ux":37.009,"uy":0.062},{"ux":36.972,"uy":0.207},{"ux":36.934,"uy":0.351},{"ux":36.916,"uy":0.483},{"ux":36.916,"uy":0.614},{"ux":36.934,"uy":0.693},{"ux":36.979,"uy":0.758},{"ux":37.024,"uy":0.771},{"ux":37.069,"uy":0.745},{"ux":37.099,"uy":0.666},{"ux":37.110,"uy":0.561},{"ux":37.099,"uy":0.430},{"ux":37.077,"uy":0.299},{"ux":37.047,"uy":0.168},{"ux":37.017,"uy":0.036},{"ux":36.991,"uy":-0.095},{"ux":36.979,"uy":-0.226},{"ux":36.983,"uy":-0.358},{"ux":36.998,"uy":-0.476},{"ux":37.032,"uy":-0.581},{"ux":37.077,"uy":-0.686},{"ux":37.122,"uy":-0.765},{"ux":37.155,"uy":-0.811},{"ux":37.163,"uy":-0.798},{"ux":37.137,"uy":-0.712},{"ux":37.099,"uy":-0.594},{"ux":37.069,"uy":-0.437},{"ux":37.062,"uy":-0.292},{"ux":37.069,"uy":-0.161},{"ux":37.092,"uy":-0.030},{"ux":37.129,"uy":0.128},{"ux":37.167,"uy":0.299},{"ux":37.204,"uy":0.456},{"ux":37.219,"uy":0.588},{"ux":37.212,"uy":0.693},{"ux":37.182,"uy":0.785},{"ux":37.152,"uy":0.837},{"ux":37.122,"uy":0.850},{"ux":37.113,"uy":0.824},{"ux":37.122,"uy":0.758},{"ux":37.152,"uy":0.640},{"ux":37.189,"uy":0.509},{"ux":37.227,"uy":0.364},{"ux":37.253,"uy":0.220},{"ux":37.268,"uy":0.089},
      {"ux":37.278,"uy":-0.043},{"ux":37.267,"uy":-0.161},{"ux":37.248,"uy":-0.240},{"ux":37.219,"uy":-0.305},{"ux":37.182,"uy":-0.423},{"ux":37.155,"uy":-0.555},{"ux":37.155,"uy":-0.686},{"ux":37.182,"uy":-0.758},{"ux":37.227,"uy":-0.784},{"ux":37.267,"uy":-0.758},{"ux":37.312,"uy":-0.732},{"ux":37.334,"uy":-0.660},{"ux":37.338,"uy":-0.555},{"ux":37.323,"uy":-0.437},{"ux":37.293,"uy":-0.318},{"ux":37.263,"uy":-0.187},{"ux":37.241,"uy":-0.069},{"ux":37.230,"uy":0.049},{"ux":37.223,"uy":0.167},{"ux":37.234,"uy":0.299},{"ux":37.256,"uy":0.417},{"ux":37.267,"uy":0.496},{"ux":37.286,"uy":0.575},{"ux":37.297,"uy":0.667},{"ux":37.319,"uy":0.785},{"ux":37.349,"uy":0.863},{"ux":37.379,"uy":0.887},{"ux":37.391,"uy":0.863},{"ux":37.379,"uy":0.798},{"ux":37.342,"uy":0.693},{"ux":37.304,"uy":0.575},{"ux":37.289,"uy":0.509},{"ux":37.297,"uy":0.391},{"ux":37.327,"uy":0.259},{"ux":37.364,"uy":0.089},{"ux":37.402,"uy":-0.082},{"ux":37.432,"uy":-0.226},{"ux":37.447,"uy":-0.358},{"ux":37.443,"uy":-0.489},{"ux":37.417,"uy":-0.620},{"ux":37.379,"uy":-0.739},{"ux":37.338,"uy":-0.830},
      {"ux":37.379,"uy":-0.699},{"ux":37.417,"uy":-0.515},{"ux":37.439,"uy":-0.332},{"ux":37.447,"uy":-0.148},{"ux":37.435,"uy":0.036},{"ux":37.413,"uy":0.220},{"ux":37.402,"uy":0.404},{"ux":37.406,"uy":0.561},{"ux":37.432,"uy":0.706},{"ux":37.462,"uy":0.758},{"ux":37.484,"uy":0.758},{"ux":37.507,"uy":0.726},{"ux":37.518,"uy":0.640},{"ux":37.514,"uy":0.509},
      {"ux":37.499,"uy":0.351},{"ux":37.484,"uy":0.220},{"ux":37.477,"uy":0.089},{"ux":37.484,"uy":-0.043},{"ux":37.495,"uy":-0.161},{"ux":37.499,"uy":-0.292},{"ux":37.495,"uy":-0.423},{"ux":37.492,"uy":-0.555},{"ux":37.484,"uy":-0.679},
      {"ux":37.522,"uy":-0.633},{"ux":37.574,"uy":-0.555},{"ux":37.619,"uy":-0.450},{"ux":37.645,"uy":-0.332},{"ux":37.656,"uy":-0.200},{"ux":37.653,"uy":-0.069},{"ux":37.626,"uy":0.062},{"ux":37.589,"uy":0.194},{"ux":37.552,"uy":0.325},{"ux":37.533,"uy":0.456},{"ux":37.544,"uy":0.575},{"ux":37.574,"uy":0.693},{"ux":37.619,"uy":0.771},{"ux":37.668,"uy":0.807},{"ux":37.698,"uy":0.791},{"ux":37.707,"uy":0.732},
      {"ux":37.694,"uy":0.640},{"ux":37.664,"uy":0.535},{"ux":37.626,"uy":0.404},{"ux":37.589,"uy":0.246},{"ux":37.567,"uy":0.102},{"ux":37.563,"uy":-0.043},{"ux":37.578,"uy":-0.187},{"ux":37.604,"uy":-0.332},{"ux":37.630,"uy":-0.463},{"ux":37.653,"uy":-0.594},{"ux":37.683,"uy":-0.725},{"ux":37.716,"uy":-0.817},{"ux":37.735,"uy":-0.850},{"ux":37.743,"uy":-0.817},
      {"ux":37.724,"uy":-0.725},{"ux":37.698,"uy":-0.594},{"ux":37.705,"uy":-0.450},{"ux":37.739,"uy":-0.318},{"ux":37.776,"uy":-0.226},{"ux":37.814,"uy":-0.134},{"ux":37.829,"uy":-0.043},{"ux":37.821,"uy":0.089},{"ux":37.799,"uy":0.194},{"ux":37.769,"uy":0.240},{"ux":37.735,"uy":0.207},{"ux":37.716,"uy":0.141},{"ux":37.724,"uy":0.036},{"ux":37.761,"uy":-0.056},{"ux":37.806,"uy":-0.161},{"ux":37.844,"uy":-0.266},{"ux":37.866,"uy":-0.371},{"ux":37.862,"uy":-0.489},{"ux":37.836,"uy":-0.594},{"ux":37.791,"uy":-0.673},{"ux":37.746,"uy":-0.706},{"ux":37.716,"uy":-0.697},{"ux":37.701,"uy":-0.647},{"ux":37.705,"uy":-0.581},
      {"ux":37.724,"uy":-0.450},{"ux":37.761,"uy":-0.332},{"ux":37.814,"uy":-0.213},{"ux":37.874,"uy":-0.121},{"ux":37.926,"uy":-0.043},{"ux":37.979,"uy":0.036},{"ux":38.001,"uy":0.115},{"ux":37.986,"uy":0.174},{"ux":37.941,"uy":0.194},{"ux":37.881,"uy":0.181},{"ux":37.829,"uy":0.141},{"ux":37.810,"uy":0.076},{"ux":37.829,"uy":0.010},{"ux":37.874,"uy":-0.043},{"ux":37.911,"uy":-0.095},{"ux":37.941,"uy":-0.161},{"ux":37.945,"uy":-0.253},{"ux":37.922,"uy":-0.305},{"ux":37.889,"uy":-0.312},{"ux":37.866,"uy":-0.266},{"ux":37.874,"uy":-0.187},{"ux":37.911,"uy":-0.134},{"ux":37.949,"uy":-0.082},
      {"ux":37.937,"uy":-0.200},{"ux":37.926,"uy":-0.332},{"ux":37.926,"uy":-0.489},{"ux":37.937,"uy":-0.647},{"ux":37.949,"uy":-0.791},{"ux":37.967,"uy":-0.909},{"ux":38.001,"uy":-1.001},{"ux":38.031,"uy":-1.021},{"ux":38.050,"uy":-0.975},{"ux":38.046,"uy":-0.883},
      {"ux":38.031,"uy":-0.752},{"ux":38.008,"uy":-0.594},{"ux":37.986,"uy":-0.437},{"ux":37.967,"uy":-0.266},{"ux":37.956,"uy":-0.095},{"ux":37.949,"uy":0.062},{"ux":37.952,"uy":0.220},{"ux":37.967,"uy":0.378},{"ux":37.975,"uy":0.509},{"ux":37.971,"uy":0.575},{"ux":37.986,"uy":0.607},{"ux":38.016,"uy":0.611},{"ux":38.053,"uy":0.588},{"ux":38.098,"uy":0.535},
      {"ux":38.128,"uy":0.456},{"ux":38.143,"uy":0.338},{"ux":38.143,"uy":0.194},{"ux":38.128,"uy":0.036},{"ux":38.106,"uy":-0.134},{"ux":38.083,"uy":-0.292},{"ux":38.068,"uy":-0.437},{"ux":38.061,"uy":-0.594},{"ux":38.068,"uy":-0.752},{"ux":38.083,"uy":-0.909},{"ux":38.102,"uy":-1.014},{"ux":38.113,"uy":-1.040},{"ux":38.136,"uy":-1.027},
      {"ux":38.173,"uy":-0.935},{"ux":38.203,"uy":-0.804},{"ux":38.211,"uy":-0.647},{"ux":38.203,"uy":-0.489},{"ux":38.181,"uy":-0.332},{"ux":38.166,"uy":-0.174},{"ux":38.173,"uy":-0.016},{"ux":38.166,"uy":0.141},{"ux":38.151,"uy":0.299},{"ux":38.136,"uy":0.456},{"ux":38.140,"uy":0.561},{"ux":38.173,"uy":0.666},{"ux":38.226,"uy":0.693},{"ux":38.278,"uy":0.673},{"ux":38.308,"uy":0.614},{"ux":38.316,"uy":0.522},
      {"ux":38.316,"uy":0.391},{"ux":38.308,"uy":0.246},{"ux":38.293,"uy":0.089},{"ux":38.278,"uy":-0.069},{"ux":38.263,"uy":-0.226},{"ux":38.256,"uy":-0.384},{"ux":38.271,"uy":-0.529},{"ux":38.301,"uy":-0.634},{"ux":38.331,"uy":-0.699},{"ux":38.361,"uy":-0.765},
      {"ux":38.338,"uy":-0.660},{"ux":38.308,"uy":-0.555},{"ux":38.286,"uy":-0.437},{"ux":38.271,"uy":-0.305},{"ux":38.256,"uy":-0.174},{"ux":38.233,"uy":-0.043},{"ux":38.211,"uy":0.102},{"ux":38.196,"uy":0.246},{"ux":38.192,"uy":0.378},{"ux":38.203,"uy":0.469},{"ux":38.226,"uy":0.483},{"ux":38.256,"uy":0.443},{"ux":38.286,"uy":0.364},{"ux":38.301,"uy":0.286},
      {"ux":38.286,"uy":0.194},{"ux":38.263,"uy":0.062},{"ux":38.241,"uy":-0.095},{"ux":38.226,"uy":-0.253},{"ux":38.214,"uy":-0.397},{"ux":38.226,"uy":-0.489},{"ux":38.248,"uy":-0.620},{"ux":38.286,"uy":-0.739},{"ux":38.323,"uy":-0.804},{"ux":38.334,"uy":-0.811},{"ux":38.331,"uy":-0.752},
      {"ux":38.316,"uy":-0.620},{"ux":38.301,"uy":-0.476},{"ux":38.293,"uy":-0.332},{"ux":38.301,"uy":-0.174},{"ux":38.323,"uy":-0.043},{"ux":38.346,"uy":0.115},{"ux":38.361,"uy":0.272},{"ux":38.368,"uy":0.404},{"ux":38.353,"uy":0.522},{"ux":38.323,"uy":0.601},{"ux":38.286,"uy":0.627},{"ux":38.256,"uy":0.627},{"ux":38.226,"uy":0.601},{"ux":38.218,"uy":0.561},
      {"ux":38.196,"uy":0.404},{"ux":38.151,"uy":0.220},{"ux":38.098,"uy":0.036},{"ux":38.046,"uy":-0.121},{"ux":37.986,"uy":-0.279},{"ux":37.926,"uy":-0.437},{"ux":37.866,"uy":-0.581},{"ux":37.806,"uy":-0.712},{"ux":37.761,"uy":-0.804},{"ux":37.735,"uy":-0.850},{"ux":37.709,"uy":-0.739},{"ux":37.679,"uy":-0.607},{"ux":37.641,"uy":-0.476},{"ux":37.597,"uy":-0.345},{"ux":37.552,"uy":-0.200},{"ux":37.499,"uy":-0.043},{"ux":37.454,"uy":0.102},{"ux":37.432,"uy":0.220},{"ux":37.435,"uy":0.312},{"ux":37.462,"uy":0.378},{"ux":37.522,"uy":0.417},{"ux":37.597,"uy":0.443}
    ]
  },
  "spacing": 23,
  "resolve": {"scale": {"color": "independent"}, "legend": {"color": "independent"}},
  "vconcat": [
    {
      "spacing": 350,
      "bounds": "flush",
      "resolve": {"scale": {"color": "independent"}, "legend": {"color": "independent"}},
      "hconcat": [
        {
          "width": 1387, "height": 1237,
          "data": {"name": "a"},
          "title": {"text": "(a)"},
          "mark": {"type": "line"},
          "encoding": {
            "x": {"field": "ux", "type": "quantitative", "scale": {"domain": [44.5, 49.25], "nice": false, "zero": false}, "axis": {"values": [45, 46, 47, 48, 49], "format": "d", "title": "uₓ/D₀"}},
            "y": {"field": "uy", "type": "quantitative", "scale": {"domain": [-1.5, 1.5], "nice": false}, "axis": {"values": [-1.5, -1.25, -1, -0.75, -0.5, -0.25, 0, 0.25, 0.5, 0.75, 1, 1.25, 1.5], "format": ".1f", "labelExpr": "abs(datum.value * 2 - round(datum.value * 2)) < 0.01 ? datum.label : ''", "tickSize": {"condition": {"test": "abs(datum.value * 2 - round(datum.value * 2)) < 0.01", "value": -19}, "value": -10}, "title": "uᵧ/D₀"}},
            "color": {"datum": "Top tension4.05×10⁵N", "type": "nominal", "scale": {"range": ["#940085"]}, "legend": {"orient": "none", "title": null, "legendX": 367, "legendY": 11}},
            "order": {"value": null}
          }
        },
        {
          "width": 1388, "height": 1237,
          "data": {"name": "b"},
          "title": {"text": "(b)"},
          "mark": {"type": "line"},
          "encoding": {
            "x": {"field": "ux", "type": "quantitative", "scale": {"domain": [40.25, 42.75], "nice": false, "zero": false}, "axis": {"values": [40.5, 41, 41.5, 42, 42.5], "format": ".1f", "title": "uₓ/D₀"}},
            "y": {"field": "uy", "type": "quantitative", "scale": {"domain": [-1.5, 1.5], "nice": false}, "axis": {"values": [-1.5, -1.25, -1, -0.75, -0.5, -0.25, 0, 0.25, 0.5, 0.75, 1, 1.25, 1.5], "format": ".1f", "labelExpr": "abs(datum.value * 2 - round(datum.value * 2)) < 0.01 ? datum.label : ''", "tickSize": {"condition": {"test": "abs(datum.value * 2 - round(datum.value * 2)) < 0.01", "value": -19}, "value": -10}, "title": "uᵧ/D₀"}},
            "color": {"datum": "Top tension4.25×10⁵N", "type": "nominal", "scale": {"range": ["#940085"]}, "legend": {"orient": "none", "title": null, "legendX": 385, "legendY": 11}},
            "order": {"value": null}
          }
        }
      ]
    },
    {
      "spacing": 20,
      "bounds": "flush",
      "resolve": {"scale": {"color": "independent"}, "legend": {"color": "independent"}},
      "hconcat": [
        {
          "width": 821, "height": 1341,
          "data": {"values": []},
          "mark": {"type": "point", "opacity": 0},
          "view": {"stroke": null}
        },
        {
          "width": 1493, "height": 1341,
          "data": {"name": "c"},
          "title": {"text": "(c)", "fontSize": 73, "offset": 56},
          "mark": {"type": "line", "strokeWidth": 5.8},
          "encoding": {
            "x": {"field": "ux", "type": "quantitative", "scale": {"domain": [35.7, 38.73], "nice": false, "zero": false}, "axis": {"values": [36, 36.5, 37, 37.5, 38, 38.5], "format": ".1f", "title": "uₓ/D₀", "labelFontSize": 70, "titleFontSize": 72, "tickSize": -20, "tickWidth": 3.5, "labelPadding": 48, "titlePadding": 29}},
            "y": {"field": "uy", "type": "quantitative", "scale": {"domain": [-1.5, 1.5], "nice": false}, "axis": {"values": [-1.5, -1.25, -1, -0.75, -0.5, -0.25, 0, 0.25, 0.5, 0.75, 1, 1.25, 1.5], "format": ".1f", "labelExpr": "abs(datum.value * 2 - round(datum.value * 2)) < 0.01 ? datum.label : ''", "tickSize": {"condition": {"test": "abs(datum.value * 2 - round(datum.value * 2)) < 0.01", "value": -20}, "value": -11}, "tickWidth": 3.5, "labelFontSize": 70, "titleFontSize": 72, "labelPadding": 41, "titlePadding": 11, "title": "uᵧ/D₀"}},
            "color": {"datum": "Top tension4.45×10⁵N", "type": "nominal", "scale": {"range": ["#940085"]}, "legend": {"orient": "none", "title": null, "legendX": 414, "legendY": 36, "labelFontSize": 66, "padding": 12, "symbolType": "M-3.37,0H3.37", "symbolOffset": 39, "labelOffset": 40, "symbolStrokeWidth": 5.8}},
            "order": {"value": null}
          }
        }
      ]
    }
  ]
}
